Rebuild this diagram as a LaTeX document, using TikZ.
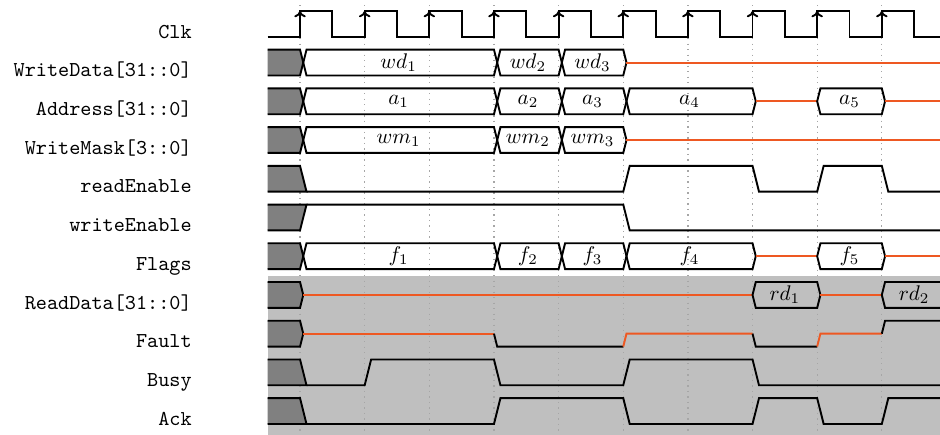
\documentclass[tikz,border=0pt]{standalone}
\usepackage{tikz}
\usetikzlibrary{arrows.meta}
\definecolor{zline}{RGB}{238,88,34}
\tikzset{sig/.style={line width=0.9pt,draw=black},
 zsig/.style={sig,draw=zline},
 undef/.style={fill=black!50},
 bgshade/.style={fill=black!25},
 gridline/.style={draw=black!35,dotted,line width=0.6pt},
 clkarr/.style={-{To[length=3pt,width=5.4pt]},line width=0.9pt},
 sname/.style={anchor=base east,font=\ttfamily,inner sep=0pt},
 val/.style={inner sep=1pt}}
\newcommand{\busbox}[5]{%
 \draw[sig] (#2,#1) -- (#2+0.1,#1+1) -- (#3,#1+1) -- (#3+0.1,#1) -- (#3,#1-1) -- (#2+0.1,#1-1) -- cycle;
 \node[val] (#4) at ({(#2+#3)/2},#1) {$#5$};}

\begin{document}
\begin{tikzpicture}[x=15.25pt,y=6.09pt]
\useasboundingbox (-8.283,1.85) rectangle (20.8,-31.82);
\fill[bgshade] (0,-19.5) rectangle (20.8,-31.82);
\foreach \t in {1,3,...,19} \draw[gridline] (\t,1.46) -- (\t,-31.82);
\node[sname] (clk) at (-2.34,-1.1) {Clk};
\node[sname] (wdata) at (-2.34,-4.1) {WriteData[31::0]};
\node[sname] (addr) at (-2.34,-7.1) {Address[31::0]};
\node[sname] (wmask) at (-2.34,-10.1) {WriteMask[3::0]};
\node[sname] (ren) at (-2.34,-13.1) {readEnable};
\node[sname] (wen) at (-2.34,-16.1) {writeEnable};
\node[sname] (flags) at (-2.34,-19.1) {Flags};
\node[sname] (rdata) at (-2.34,-22.1) {ReadData[31::0]};
\node[sname] (fault) at (-2.34,-25.1) {Fault};
\node[sname] (busy) at (-2.34,-28.1) {Busy};
\node[sname] (ack) at (-2.34,-31.1) {Ack};
% clock
\draw[sig] (0,-1) \foreach \t in {1,3,...,19} {-- (\t,-1) -- (\t,1) -- (\t+1,1) -- (\t+1,-1)} -- (20.8,-1);
\foreach \t in {1,3,...,19} \draw[clkarr] (\t,0) -- (\t,1);
% undefined start
\foreach \m in {-3,-6,-9,-18,-21,-24} {
 \fill[undef] (0,\m+1) -- (1,\m+1) -- (1.1,\m) -- (1,\m-1) -- (0,\m-1) -- cycle;
 \draw[sig] (0,\m+1) -- (1,\m+1) -- (1.1,\m) -- (1,\m-1) -- (0,\m-1);}
\foreach \m in {-12,-27,-30} {
 \fill[undef] (0,\m+1) -- (1,\m+1) -- (1.2,\m-1) -- (0,\m-1) -- cycle;
 \draw[sig] (0,\m+1) -- (1,\m+1) -- (1.2,\m-1) -- (0,\m-1);}
\fill[undef] (0,-16) -- (1,-16) -- (1.2,-14) -- (0,-14) -- cycle;
\draw[sig] (0,-16) -- (1,-16) -- (1.2,-14) -- (0,-14);
% buses
\busbox{-3}{1.1}{7}{wd1}{wd_1}
\busbox{-3}{7.1}{9}{wd2}{wd_2}
\busbox{-3}{9.1}{11}{wd3}{wd_3}
\draw[zsig] (11.1,-3) -- (20.8,-3);
\busbox{-6}{1.1}{7}{a1}{a_1}
\busbox{-6}{7.1}{9}{a2}{a_2}
\busbox{-6}{9.1}{11}{a3}{a_3}
\busbox{-6}{11.1}{15}{a4}{a_4}
\draw[zsig] (15.1,-6) -- (17,-6);
\busbox{-6}{17}{19}{a5}{a_5}
\draw[zsig] (19.1,-6) -- (20.8,-6);
\busbox{-9}{1.1}{7}{wm1}{wm_1}
\busbox{-9}{7.1}{9}{wm2}{wm_2}
\busbox{-9}{9.1}{11}{wm3}{wm_3}
\draw[zsig] (11.1,-9) -- (20.8,-9);
\draw[sig] (1.2,-13) -- (11,-13) -- (11.2,-11) -- (15,-11) -- (15.2,-13) -- (17,-13) -- (17.2,-11) -- (19,-11) -- (19.2,-13) -- (20.8,-13);
\draw[sig] (1.2,-14) -- (11,-14) -- (11.2,-16) -- (20.8,-16);
\busbox{-18}{1.1}{7}{f1}{f_1}
\busbox{-18}{7.1}{9}{f2}{f_2}
\busbox{-18}{9.1}{11}{f3}{f_3}
\busbox{-18}{11.1}{15}{f4}{f_4}
\draw[zsig] (15.1,-18) -- (17,-18);
\busbox{-18}{17}{19}{f5}{f_5}
\draw[zsig] (19.1,-18) -- (20.8,-18);
% read side
\draw[zsig] (1.1,-21) -- (15,-21);
\busbox{-21}{15}{17}{rd1}{rd_1}
\draw[zsig] (17.1,-21) -- (19,-21);
\draw[sig] (20.8,-20) -- (19.1,-20) -- (19,-21) -- (19.1,-22) -- (20.8,-22);
\node[val] (rd2) at (20,-21) {$rd_2$};
\draw[zsig] (1.1,-24) -- (7,-24);
\draw[sig] (7,-24) -- (7.1,-25) -- (11,-25);
\draw[zsig] (11,-25) -- (11.1,-24) -- (15,-24);
\draw[sig] (15,-24) -- (15.1,-25) -- (17,-25);
\draw[zsig] (17,-25) -- (17.1,-24) -- (19,-24);
\draw[sig] (19,-24) -- (19.1,-23) -- (20.8,-23);
\draw[sig] (1.2,-28) -- (3,-28) -- (3.2,-26) -- (7,-26) -- (7.2,-28) -- (11,-28) -- (11.2,-26) -- (15,-26) -- (15.2,-28) -- (20.8,-28);
\draw[sig] (1.2,-31) -- (7,-31) -- (7.2,-29) -- (11,-29) -- (11.2,-31) -- (15,-31) -- (15.2,-29) -- (17,-29) -- (17.2,-31) -- (19,-31) -- (19.2,-29) -- (20.8,-29);
\end{tikzpicture}
\end{document}
